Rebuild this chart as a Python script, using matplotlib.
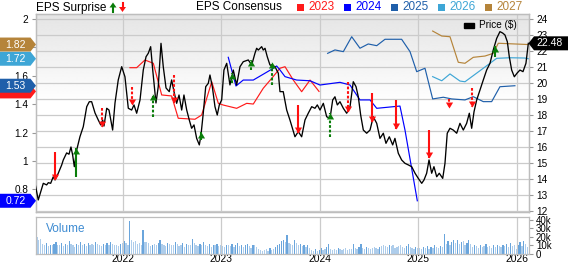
import matplotlib
matplotlib.use('Agg')
import matplotlib.pyplot as plt
import numpy as np
from matplotlib.path import Path
from matplotlib.markers import MarkerStyle
from matplotlib.patches import Polygon, Rectangle
from matplotlib.lines import Line2D
from matplotlib.transforms import IdentityTransform
from matplotlib.ticker import FormatStrFormatter, FuncFormatter

plt.rcParams['font.family'] = ['Liberation Sans', 'DejaVu Sans']

# ---------------- data ----------------
price_t = [2021.110, 2021.143, 2021.194, 2021.228, 2021.245, 2021.269, 2021.295, 2021.313, 2021.346, 2021.381,
           2021.397, 2021.431, 2021.455, 2021.475, 2021.492, 2021.509, 2021.533, 2021.566, 2021.600, 2021.635,
           2021.661, 2021.685, 2021.719, 2021.752, 2021.777, 2021.797, 2021.810, 2021.838, 2021.861, 2021.898,
           2021.922, 2021.955, 2021.990, 2022.023, 2022.057, 2022.091, 2022.115, 2022.142, 2022.176, 2022.209,
           2022.237, 2022.260, 2022.284, 2022.305, 2022.338, 2022.361, 2022.389, 2022.412, 2022.440, 2022.473,
           2022.497, 2022.521, 2022.548, 2022.572, 2022.599, 2022.622, 2022.650, 2022.676, 2022.700, 2022.724,
           2022.751, 2022.778, 2022.795, 2022.818, 2022.843, 2022.869, 2022.886, 2022.910, 2022.937, 2022.960,
           2022.981, 2023.005, 2023.028, 2023.056, 2023.089, 2023.123, 2023.157, 2023.191, 2023.224, 2023.275,
           2023.310, 2023.343, 2023.360, 2023.377, 2023.411, 2023.427, 2023.445, 2023.468, 2023.495, 2023.546,
           2023.580, 2023.597, 2023.630, 2023.665, 2023.698, 2023.749, 2023.783, 2023.817, 2023.851, 2023.884,
           2023.919, 2023.952, 2023.976, 2024.003, 2024.037, 2024.071, 2024.105, 2024.132, 2024.155, 2024.179,
           2024.206, 2024.240, 2024.274, 2024.308, 2024.341, 2024.369, 2024.392, 2024.416, 2024.443, 2024.477,
           2024.511, 2024.544, 2024.579, 2024.612, 2024.646, 2024.673, 2024.707, 2024.741, 2024.764, 2024.798,
           2024.832, 2024.866, 2024.900, 2024.934, 2024.968, 2025.001, 2025.036, 2025.059, 2025.086, 2025.110,
           2025.137, 2025.160, 2025.188, 2025.214, 2025.249, 2025.272, 2025.295, 2025.323, 2025.356, 2025.391,
           2025.424, 2025.458, 2025.492, 2025.519, 2025.543, 2025.567, 2025.594, 2025.627, 2025.661, 2025.695,
           2025.729, 2025.762, 2025.797, 2025.830, 2025.858, 2025.881, 2025.905, 2025.925, 2025.949, 2025.976,
           2026.003, 2026.033, 2026.064, 2026.094, 2026.118]
price_v = [13.73, 12.69, 13.73, 13.63, 13.77, 13.73, 14.14, 13.94, 14.36, 14.88,
           15.19, 15.63, 15.55, 16.00, 15.50, 14.77, 15.81, 16.64, 17.27, 18.52,
           18.83, 18.83, 18.13, 17.69, 17.38, 17.69, 17.31, 18.42, 18.31, 17.06,
           18.75, 20.19, 21.02, 20.39, 18.42, 18.31, 18.63, 18.11, 18.94, 20.81,
           21.64, 21.86, 22.27, 20.81, 18.75, 19.77, 22.48, 21.02, 19.69, 19.46,
           20.19, 19.46, 18.73, 19.25, 18.31, 19.25, 18.31, 17.69, 17.17, 17.38,
           16.54, 16.13, 16.75, 18.11, 19.77, 19.98, 20.50, 19.77, 18.52, 18.00,
           18.63, 18.94, 20.81, 21.23, 19.88, 20.81, 19.88, 21.02, 21.33, 21.44,
           21.13, 21.86, 22.17, 22.06, 22.27, 22.06, 22.17, 21.64, 21.13, 21.02,
           20.61, 19.46, 19.46, 18.31, 17.69, 16.64, 16.96, 16.64, 17.69, 18.11,
           18.52, 18.42, 18.63, 18.31, 18.73, 17.89, 17.79, 18.94, 19.14, 18.63,
           18.83, 18.42, 18.11, 18.52, 20.08, 19.77, 19.14, 18.00, 17.06, 16.86,
           17.06, 17.89, 17.48, 16.54, 16.86, 16.23, 16.64, 16.13, 16.54, 15.61,
           15.19, 14.98, 14.88, 14.77, 14.36, 14.04, 13.73, 13.94, 14.36, 15.19,
           14.36, 14.77, 14.14, 14.36, 14.04, 14.98, 16.86, 17.17, 17.06, 16.86,
           17.48, 17.06, 17.48, 18.11, 17.17, 18.21, 18.94, 19.56, 20.19, 20.81,
           21.23, 22.06, 22.79, 23.21, 23.12, 23.00, 22.58, 21.64, 20.81, 20.39,
           20.61, 20.81, 20.71, 21.23, 22.48]

cons_2023_t = [2022.074, 2022.142, 2022.226, 2022.311, 2022.396, 2022.497, 2022.564, 2022.734, 2022.802, 2022.904,
               2022.971, 2023.021, 2023.157, 2023.259, 2023.326, 2023.427, 2023.513, 2023.597, 2023.648, 2023.732,
               2023.817, 2023.902, 2023.993]
cons_2023_v = [1.657, 1.657, 1.711, 1.688, 1.465, 1.458, 1.301, 1.294, 1.324, 1.558,
               1.406, 1.394, 1.371, 1.406, 1.401, 1.512, 1.582, 1.653, 1.664, 1.570,
               1.488, 1.570, 1.49]
cons_2024_t = [2023.072, 2023.150, 2023.224, 2023.326, 2023.427, 2023.513, 2023.563, 2023.597, 2023.648, 2023.766,
               2023.902, 2024.003, 2024.206, 2024.308, 2024.409, 2024.511, 2024.579, 2024.815, 2024.866, 2024.991]
cons_2024_v = [1.730, 1.528, 1.570, 1.570, 1.611, 1.646, 1.669, 1.641, 1.594, 1.570,
               1.565, 1.535, 1.554, 1.535, 1.430, 1.430, 1.371, 1.387, 1.218, 0.72]
cons_2025_t = [2024.081, 2024.155, 2024.240, 2024.325, 2024.409, 2024.493, 2024.579, 2024.663, 2024.832, 2024.917,
               2024.985, 2025.069, 2025.147, 2025.255, 2025.340, 2025.475, 2025.559, 2025.661, 2025.746, 2025.830,
               2025.982]
cons_2025_v = [1.758, 1.782, 1.770, 1.875, 1.794, 1.824, 1.812, 1.857, 1.857, 1.770,
               1.629, 1.653, 1.437, 1.449, 1.437, 1.430, 1.453, 1.418, 1.418, 1.523,
               1.53]
cons_2026_t = [2025.147, 2025.239, 2025.323, 2025.424, 2025.475, 2025.661, 2025.797, 2025.932, 2026.084, 2026.118]
cons_2026_v = [1.594, 1.565, 1.613, 1.563, 1.558, 1.653, 1.723, 1.727, 1.725, 1.72]
cons_2027_t = [2025.147, 2025.239, 2025.323, 2025.407, 2025.475, 2025.559, 2025.678, 2025.762, 2025.813, 2026.118]
cons_2027_v = [1.915, 1.880, 1.875, 1.695, 1.688, 1.730, 1.739, 1.758, 1.829, 1.82]

cons_years = ['2023', '2024', '2025', '2026', '2027']
cons_colors = ['#ff1a1a', '#0000ff', '#1f5faa', '#3ea6d6', '#b5843a']

surp_t = [2021.313, 2021.526, 2021.787, 2022.097, 2022.311, 2022.521, 2022.792, 2023.113, 2023.302, 2023.519,
          2023.783, 2024.105, 2024.284, 2024.534, 2024.775, 2025.110, 2025.316, 2025.543, 2025.780]
surp_tip = [13.94, 15.92, 17.27, 18.63, 19.31, 18.73, 16.96, 20.61, 21.44, 21.33,
            16.86, 18.11, 18.21, 17.58, 17.11, 15.29, 18.42, 18.52, 22.31]
surp_tail = [15.71, 14.14, 18.42, 19.77, 17.86, 20.50, 16.44, 19.98, 20.81, 19.88,
             18.63, 16.64, 20.08, 19.36, 18.94, 17.06, 18.98, 19.67, 21.64]
surp_solid = [1, 1, 0, 0, 0, 0, 1, 0, 0, 0, 1, 0, 0, 1, 1, 1, 0, 0, 1]

vol_start = 2021.13
vol_k = [20, 17, 18, 12, 11, 13, 9, 11, 10, 12, 14, 11, 10, 13, 9, 12, 11, 15, 12, 10, 8, 12, 11, 14, 10, 12, 9, 13,
         11, 12, 10, 14, 12, 11, 9, 12, 10, 13, 11, 14, 12, 10, 11, 9, 12, 13,
         15, 13, 10, 39, 16, 14, 15, 12, 13, 11, 28, 14, 14, 13, 9, 11, 12, 10, 13, 16, 12, 11, 9, 13, 12, 10,
         11, 14, 12, 9, 10, 13, 8, 12, 11, 10, 18, 13, 11, 9, 12, 10, 14, 11, 9, 12, 8, 11, 10, 12, 9, 10,
         9, 8, 10, 11, 9, 12, 8, 10, 13, 9, 11, 8, 10, 12, 9, 7, 11, 10, 8, 6, 5, 4, 5, 6, 4, 7, 5, 6, 8, 10,
         12, 15, 17, 14, 22, 13, 12, 11, 16, 13, 10, 12, 9, 11, 8, 10, 7, 5, 4, 6, 3, 5,
         7, 5, 6, 8, 12, 6, 5, 6, 5, 7, 6, 5, 6, 7, 5, 6, 6, 12, 7, 6, 8, 12, 7, 6, 8, 7, 6, 7, 8, 7, 6, 8,
         9, 10, 9, 8, 10, 9, 10, 7, 8, 9, 10, 8, 7, 9, 12, 8, 7, 6, 8, 7,
         7, 6, 8, 7, 9, 6, 8, 7, 10, 8, 7, 9, 8, 24, 12, 15, 11, 14, 16, 13, 17, 12, 14, 15, 11, 13, 16, 12,
         8, 10, 9, 7, 10, 8, 9, 12, 8, 9, 7, 10, 8, 11, 9, 8, 10, 9, 12, 8, 13, 9, 10, 6, 11, 14, 9, 15, 12, 8]

year_ticks = [2022, 2023, 2024, 2025, 2026]
price_ticks = list(range(12, 25))
eps_ticks = [0.8, 1.0, 1.2, 1.4, 1.6, 1.8, 2.0]
vol_ticks = [0, 10, 20, 30, 40]

# ---------------- layout ----------------
W, H = 568, 264
fig = plt.figure(figsize=(W / 100, H / 100), dpi=100)
GRID = '#cbcbcb'
SPINE = '#bdbdbd'

ax = fig.add_axes([36 / W, (H - 212) / H, 493 / W, 198 / H])
axp = ax.twinx()
axv = fig.add_axes([36 / W, (H - 254) / H, 493 / W, 37 / H])

XMIN, XMAX = 2021.120, 2026.125

# gradient background
n = 200
frac = np.linspace(0, 1, n)[:, None]
grad = 0.895 + 0.105 * np.clip(frac / 0.45, 0, 1)
ax.imshow(grad, extent=[0, 1, 0, 1], transform=ax.transAxes, aspect='auto', cmap='gray',
          vmin=0, vmax=1, zorder=0, interpolation='bilinear')

ax.set_xlim(XMIN, XMAX)
ax.set_ylim(0.641, 2.035)
axp.set_ylim(11.9375, 24.3125)

ax.set_xticks(year_ticks)
ax.grid(axis='x', color=GRID, lw=0.9)
ax.tick_params(axis='x', length=0, labelbottom=False)
ax.set_yticks(eps_ticks)
ax.yaxis.set_major_formatter(FormatStrFormatter('%g'))
ax.tick_params(axis='y', length=3, width=0.8, color='#999999', labelsize=7.2, pad=2.5)

axp.set_yticks(price_ticks)
axp.grid(axis='y', color=GRID, lw=0.9)
axp.tick_params(axis='y', length=3, width=0.8, color='#999999', labelsize=7.2, pad=2.5)

for a in (ax, axp, axv):
    for s in a.spines.values():
        s.set_color(SPINE)
        s.set_linewidth(0.9)

# consensus lines (EPS scale of ax), drawn in axp layer
cons_t = [cons_2023_t, cons_2024_t, cons_2025_t, cons_2026_t, cons_2027_t]
cons_v = [cons_2023_v, cons_2024_v, cons_2025_v, cons_2026_v, cons_2027_v]
for t, v, c in zip(cons_t, cons_v, cons_colors):
    axp.plot(t, v, color=c, lw=0.85, transform=ax.transData, zorder=2.5)

# price
axp.plot(price_t, price_v, color='black', lw=0.95, zorder=3)

# surprise arrows
down_head = MarkerStyle(Path([(0, 0), (-0.6, 1), (0.6, 1), (0, 0)],
                             [Path.MOVETO, Path.LINETO, Path.LINETO, Path.CLOSEPOLY]))
up_head = MarkerStyle(Path([(0, 0), (-0.6, -1), (0.6, -1), (0, 0)],
                           [Path.MOVETO, Path.LINETO, Path.LINETO, Path.CLOSEPOLY]))
for t, tip, tail, solid in zip(surp_t, surp_tip, surp_tail, surp_solid):
    up = tip > tail
    col = '#0a7d0a' if up else '#ff1010'
    ls = '-' if solid else (0, (1.3, 0.9))
    axp.plot([t, t], [tail, tip], color=col, lw=1.5, ls=ls, solid_capstyle='butt',
             dash_capstyle='butt', zorder=4)
    axp.plot([t], [tip], marker=up_head if up else down_head, markersize=8.6,
             color=col, mec=col, mew=0, ls='none', zorder=4.5)

axp.set_xlim(XMIN, XMAX)
axp.set_ylim(11.9375, 24.3125)
ax.set_ylim(0.641, 2.035)

# Price legend inside
fig.add_artist(Rectangle((464, H - 27.5), 10, 5, color='black', transform=IdentityTransform()))
fig.text(479 / W, 1 - 25 / H, 'Price ($)', fontsize=7.2, va='center', ha='left')

# ---------------- volume ----------------
vol_t = vol_start + np.arange(len(vol_k)) / 52.0
vcols = ['#6aa5dc' if (i > 0 and vol_k[i] > vol_k[i - 1] + 1) else '#aecdeb' for i in range(len(vol_k))]
axv.bar(vol_t, vol_k, width=0.65 / 52, color=vcols, linewidth=0, zorder=2)
axv.set_xlim(XMIN, XMAX)
axv.set_ylim(0, 43.5)
axv.set_xticks(year_ticks)
axv.set_xticklabels([str(y) for y in year_ticks])
axv.grid(axis='x', color=GRID, lw=0.9)
axv.set_axisbelow(True)
axv.tick_params(axis='x', length=0, labelsize=7.4, pad=0.3)
axv.yaxis.tick_right()
axv.set_yticks(vol_ticks)
axv.yaxis.set_major_formatter(FuncFormatter(lambda v, p: '0' if v == 0 else '%dk' % v))
axv.tick_params(axis='y', length=3, width=0.8, color='#999999', labelsize=7, pad=2)
axv.text(0.02, 0.68, 'Volume', transform=axv.transAxes, fontsize=8.5, color='#3d8bd2', va='center')

# ---------------- header legend ----------------
fig.text(36 / W, 1 - 7.5 / H, 'EPS Surprise', fontsize=8.5, va='center', ha='left')
fig.text(196.5 / W, 1 - 7.5 / H, 'EPS Consensus', fontsize=8.5, va='center', ha='left')


def head_poly(xc, y_tip, up, col):
    # pixel coordinates from top
    if up:
        v = [(xc, y_tip), (xc - 3.5, y_tip + 5), (xc + 3.5, y_tip + 5)]
    else:
        v = [(xc, y_tip), (xc - 3.5, y_tip - 5), (xc + 3.5, y_tip - 5)]
    fig.add_artist(Polygon([(x, H - y) for x, y in v], closed=True, color=col, lw=0,
                           transform=IdentityTransform()))


# small arrows after "EPS Surprise"
fig.add_artist(Line2D([113, 113], [H - 12, H - 6], color='#0a7d0a', lw=1.5, transform=IdentityTransform()))
head_poly(113, 2.5, True, '#0a7d0a')
fig.add_artist(Line2D([122.5, 122.5], [H - 3, H - 8], color='#ff1010', lw=1.5, transform=IdentityTransform()))
head_poly(122.5, 12, False, '#ff1010')

leg_x0 = 297
for i, (yr, c) in enumerate(zip(cons_years, cons_colors)):
    xs = leg_x0 + 47 * i
    fig.add_artist(Rectangle((xs, H - 11), 7, 7, color=c, lw=0, transform=IdentityTransform()))
    fig.text((xs + 11.5) / W, 1 - 7.5 / H, yr, fontsize=8.5, color=c, va='center', ha='left')

# ---------------- value tags ----------------
fig.canvas.draw()


def left_tag(val, col, text=True):
    yd = ax.transData.transform((XMIN, val))[1]
    verts = [(0, yd - 7), (30.5, yd - 7), (36, yd), (30.5, yd + 7), (0, yd + 7)]
    fig.add_artist(Polygon(verts, closed=True, color=col, lw=0, transform=IdentityTransform(), zorder=10))
    if text:
        fig.text(15.5 / W, yd / H, '%.2f' % val, color='white', fontsize=7.5, ha='center', va='center',
                 zorder=11)


left_tag(cons_2023_v[-1], cons_colors[0], text=False)
left_tag(cons_2025_v[-1], cons_colors[2])
left_tag(cons_2024_v[-1], cons_colors[1])
left_tag(cons_2026_v[-1], cons_colors[3])
left_tag(cons_2027_v[-1], cons_colors[4])

yd = axp.transData.transform((XMAX, price_v[-1]))[1]
verts = [(528.5, yd), (534, yd - 7), (568, yd - 7), (568, yd + 7), (534, yd + 7)]
fig.add_artist(Polygon(verts, closed=True, color='black', lw=0, transform=IdentityTransform(), zorder=10))
fig.text(550 / W, yd / H, '%.2f' % price_v[-1], color='white', fontsize=7.5, ha='center', va='center', zorder=11)

fig.savefig('out.png', dpi=100)
